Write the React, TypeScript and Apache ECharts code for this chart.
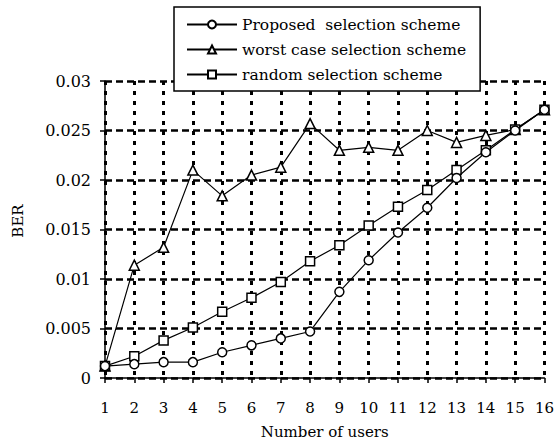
import React, { useEffect, useRef } from "react";
import * as echarts from "echarts";

const users = [1, 2, 3, 4, 5, 6, 7, 8, 9, 10, 11, 12, 13, 14, 15, 16];
const proposed = [0.0012, 0.0014, 0.0016, 0.0016, 0.0026, 0.0033, 0.004, 0.0047, 0.0087, 0.0119, 0.0147, 0.0172, 0.0202, 0.0228, 0.025, 0.0271];
const worstCase = [0.0012, 0.0114, 0.0132, 0.021, 0.0184, 0.0205, 0.0213, 0.0257, 0.023, 0.0233, 0.023, 0.025, 0.0238, 0.0245, 0.0251, 0.0271];
const randomSel = [0.0012, 0.0022, 0.0038, 0.0051, 0.0067, 0.0081, 0.0097, 0.0118, 0.0134, 0.0154, 0.0173, 0.019, 0.021, 0.023, 0.0251, 0.0271];
const seriesNames = ["Proposed  selection scheme", "worst case selection scheme", "random selection scheme"];
const xAxisName = "Number of users";
const yAxisName = "BER";

const FONT = "DejaVu Serif";

export default function App() {
  const ref = useRef<HTMLDivElement>(null);
  useEffect(() => {
    document.body.style.margin = "0";
    const chart = echarts.init(ref.current!, null, { renderer: "svg" });
    const mk = (name: string, vals: number[], symbol: string, z: number) => ({
      name,
      type: "line",
      data: users.map((u, i) => [u, vals[i]]),
      symbol,
      symbolSize: symbol === "triangle" ? 10 : 9,
      showSymbol: true,
      z,
      lineStyle: { color: "#000", width: 1.2 },
      itemStyle: { color: "#fff", borderColor: "#000", borderWidth: 1.5 },
    });
    chart.setOption({
      animation: false,
      backgroundColor: "#fff",
      grid: { left: 105, right: 8, top: 81, bottom: 66, containLabel: false },
      legend: {
        orient: "vertical",
        left: 174,
        top: 7,
        padding: [9, 14, 8, 12],
        itemWidth: 50,
        itemHeight: 10,
        itemGap: 8,
        backgroundColor: "#fff",
        borderColor: "#000",
        borderWidth: 1.5,
        z: 10,
        data: seriesNames,
        textStyle: { fontFamily: FONT, fontSize: 15.5, color: "#000", lineHeight: 17 },
      },
      xAxis: {
        type: "value",
        min: 1,
        max: 16,
        interval: 1,
        name: xAxisName,
        nameLocation: "middle",
        nameGap: 46,
        nameTextStyle: { fontFamily: FONT, fontSize: 15, color: "#000" },
        axisLine: { lineStyle: { color: "#000", width: 1.5 } },
        axisTick: { show: true, length: 5, lineStyle: { color: "#000", width: 1.5 } },
        axisLabel: { margin: 22, fontFamily: FONT, fontSize: 15, color: "#000" },
        splitLine: { show: true, lineStyle: { color: "#000", width: 3, type: [4, 6] } },
      },
      yAxis: {
        type: "value",
        min: 0,
        max: 0.03,
        interval: 0.005,
        axisLine: { show: true, lineStyle: { color: "#000", width: 1.5 } },
        axisTick: { show: true, length: 5, lineStyle: { color: "#000", width: 1.5 } },
        axisLabel: {
          margin: 14,
          fontFamily: FONT,
          fontSize: 16,
          color: "#000",
          formatter: (v: number) => String(+v.toFixed(3)),
        },
        splitLine: { show: true, lineStyle: { color: "#000", width: 2.5, type: [7, 4] } },
      },
      graphic: [
        {
          type: "text",
          x: 18,
          y: 221,
          rotation: Math.PI / 2,
          style: {
            text: yAxisName,
            font: `15px "${FONT}"`,
            fill: "#000",
            textAlign: "center",
            textVerticalAlign: "middle",
          },
        },
      ],
      series: [
        mk(seriesNames[1], worstCase, "triangle", 3),
        mk(seriesNames[2], randomSel, "rect", 4),
        mk(seriesNames[0], proposed, "circle", 5),
      ],
    });
    return () => chart.dispose();
  }, []);
  return <div ref={ref} style={{ position: "fixed", left: 0, top: 0, width: 557, height: 444 }} />;
}
